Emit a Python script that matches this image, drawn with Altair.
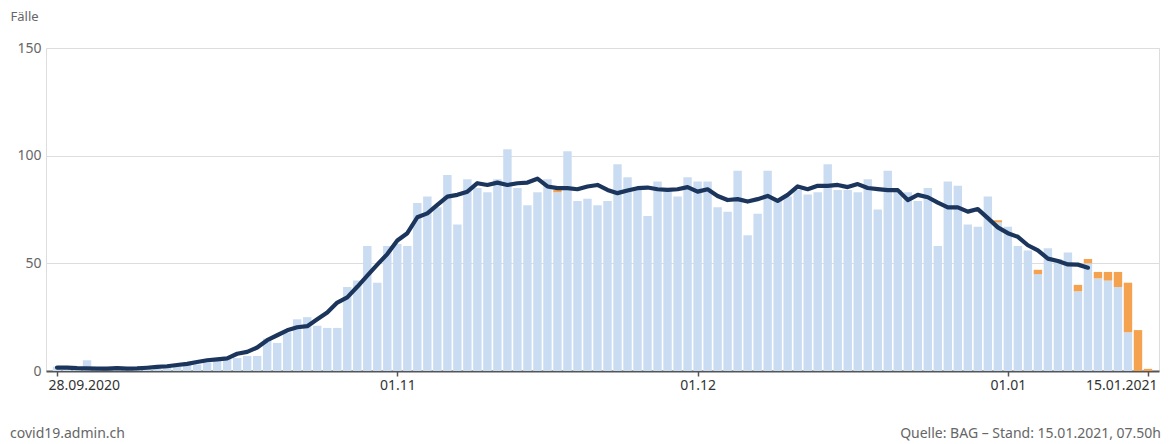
import altair as alt
import pandas as pd

# ---- data ----
start_date = "2020-09-28"
end_date = "2021-01-15"

cases = [2, 1, 1, 5, 1, 0, 2, 1, 1, 1,
         1, 2, 2, 3, 3, 4, 5, 6, 6, 7,
         7, 15, 13, 18, 24, 25, 21, 20, 20, 39,
         42, 58, 41, 58, 59, 58, 78, 81, 76, 91,
         68, 89, 85, 83, 89, 103, 85, 77, 83, 89,
         83, 102, 79, 80, 77, 79, 96, 90, 85, 72,
         88, 84, 81, 90, 88, 88, 76, 74, 93, 63,
         73, 93, 79, 81, 84, 82, 83, 96, 84, 84,
         83, 89, 75, 93, 84, 83, 79, 85, 58, 88,
         86, 68, 67, 81, 69, 67, 58, 56, 45, 57,
         52, 55, 37, 50, 43, 42, 39, 18, 0, 0]

late = [0, 0, 0, 0, 0, 0, 0, 0, 0, 0,
        0, 0, 0, 0, 0, 0, 0, 0, 0, 0,
        0, 0, 0, 0, 0, 0, 0, 0, 0, 0,
        0, 0, 0, 0, 0, 0, 0, 0, 0, 0,
        0, 0, 0, 0, 0, 0, 0, 0, 0, 0,
        1, 0, 0, 0, 0, 0, 0, 0, 0, 0,
        0, 0, 0, 0, 0, 0, 0, 0, 0, 0,
        0, 0, 0, 0, 0, 0, 0, 0, 0, 0,
        0, 0, 0, 0, 0, 0, 0, 0, 0, 0,
        0, 0, 0, 0, 1, 0, 0, 0, 2, 0,
        0, 0, 3, 2, 3, 4, 7, 23, 19, 1]

avg7 = [1.6, 1.6, 1.3, 1.2, 1.1, 1.1, 1.3, 1.1, 1.2, 1.5,
        1.9, 2.2, 2.8, 3.3, 4.2, 5.0, 5.4, 5.9, 8.0, 8.9,
        10.9, 14.3, 16.6, 18.9, 20.3, 20.8, 24.0, 27.2, 31.8, 34.2,
        39.1, 44.3, 49.4, 54.3, 60.6, 64.0, 71.4, 73.2, 77.1, 81.0,
        81.8, 83.3, 87.2, 86.4, 87.5, 86.4, 87.2, 87.5, 89.3, 85.7,
        84.9, 84.9, 84.4, 85.7, 86.4, 84.1, 82.6, 83.8, 84.9, 85.2,
        84.4, 84.1, 84.4, 85.4, 83.3, 84.4, 81.3, 79.4, 79.8, 78.7,
        79.8, 81.3, 79.0, 81.8, 85.7, 84.4, 86.0, 86.0, 86.4, 85.4,
        86.8, 85.0, 84.5, 84.0, 84.0, 79.4, 81.8, 80.7, 78.2, 76.0,
        76.0, 74.0, 75.2, 71.0, 66.7, 64.0, 62.3, 58.4, 56.0, 52.2,
        51.1, 49.5, 49.4, 48.0]

tick_dates = ["2020-09-28", "2020-11-01", "2020-12-01", "2021-01-01", "2021-01-15"]
y_ticks = [0, 50, 100, 150]

# ---- tables ----
dates = pd.date_range(start_date, end_date, freq="D")
date_str = [d.strftime("%Y-%m-%dT00:00:00Z") for d in dates]

bars = pd.DataFrame({
    "date": date_str * 2,
    "n": cases + late,
    "typ": ["gemeldet"] * len(cases) + ["nachgemeldet"] * len(late),
    "ord": [0] * len(cases) + [1] * len(late),
})
line_df = pd.DataFrame({"date": date_str[:len(avg7)], "avg": avg7})

day_ms = 86400000
t0 = pd.Timestamp(start_date, tz="UTC").value // 10**6
t1 = pd.Timestamp(end_date, tz="UTC").value // 10**6
domain = [t0 - 0.6 * day_ms, t1 + 0.6 * day_ms]
tick_vals = [pd.Timestamp(t, tz="UTC").value // 10**6 for t in tick_dates]

FONT = "Noto Sans"

x_enc = alt.X(
    "date:T",
    scale=alt.Scale(type="utc", domain=domain, nice=False),
    axis=alt.Axis(
        title=None,
        values=tick_vals,
        labelExpr="(datum.index == 0 || datum.index == 1) ? utcFormat(datum.value, '%d.%m.%Y') : utcFormat(datum.value, '%d.%m')",
        labelFlush=12,
        labelFlushOffset=9,
        labelFont=FONT,
        labelFontSize=14,
        labelColor="#333333",
        labelPadding=2,
        tickSize=5,
        tickColor="#555555",
        tickWidth=1.5,
        domainColor="#555555",
        domainWidth=2,
        grid=False,
    ),
)

y_scale = alt.Scale(domain=[0, 150], nice=False)
y_axis = alt.Axis(
    values=y_ticks,
    title="Fälle",
    titleAngle=0,
    titleAlign="left",
    titleBaseline="top",
    titleX=-36,
    titleY=-38,
    titleFont=FONT,
    titleFontSize=13,
    titleFontWeight="normal",
    titleColor="#666666",
    labelFont=FONT,
    labelFontSize=14,
    labelColor="#666666",
    labelPadding=5,
    ticks=False,
    domain=False,
    grid=True,
    gridColor="#dddddd",
    gridWidth=1,
)

bar_layer = alt.Chart(bars).mark_bar(width=8.4).encode(
    x=x_enc,
    y=alt.Y("sum(n):Q", scale=y_scale, axis=y_axis, stack="zero"),
    color=alt.Color("typ:N", scale=alt.Scale(domain=["gemeldet", "nachgemeldet"],
                                             range=["#cadcf1", "#f4a24f"]), legend=None),
    order=alt.Order("ord:Q", sort="ascending"),
)

line_layer = alt.Chart(line_df).mark_line(
    color="#1b355c", strokeWidth=4.2, strokeJoin="round", strokeCap="round"
).encode(
    x=alt.X("date:T"),
    y=alt.Y("avg:Q"),
)

footer_left = alt.Chart(pd.DataFrame({"t": ["covid19.admin.ch"]})).mark_text(
    align="left", baseline="middle", font=FONT, fontSize=14, color="#666666"
).encode(text="t:N", x=alt.value(-36), y=alt.value(386))

footer_right = alt.Chart(pd.DataFrame({"t": ["Quelle: BAG – Stand: 15.01.2021, 07.50h"]})).mark_text(
    align="right", baseline="middle", font=FONT, fontSize=14, color="#666666"
).encode(text="t:N", x=alt.value(1115), y=alt.value(386))

chart = alt.layer(bar_layer, line_layer, footer_left, footer_right).properties(
    width=1113,
    height=323,
    autosize=alt.AutoSizeParams(type="none"),
    padding={"left": 38, "top": 40, "right": 2, "bottom": 73},
).configure_view(stroke=None).configure(background="white")

chart.save("out.html", embed_options={"renderer": "svg", "actions": False})
